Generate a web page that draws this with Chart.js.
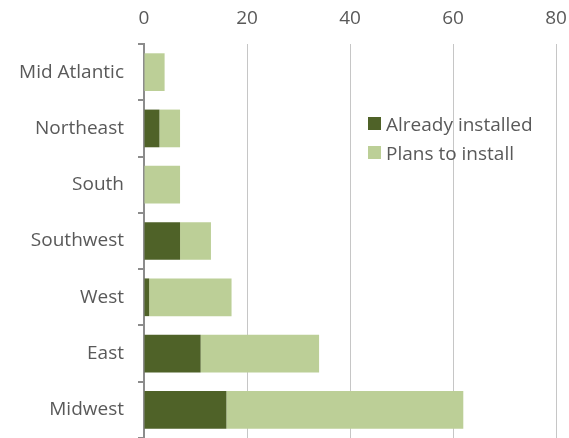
<!DOCTYPE html>
<html>
<head>
<meta charset="utf-8">
<script src="https://cdn.jsdelivr.net/npm/chart.js@4"></script>
<style>
  html, body { margin: 0; padding: 0; background: #fff; }
  #wrap { position: relative; width: 569px; height: 438px; }
  canvas { display: block; }
  #legend { position: absolute; left: 368px; top: 109px; font-family: "Open Sans", sans-serif; font-size: 19px; color: #595959; }
  #legend div { display: flex; align-items: center; height: 29px; }
  #legend span.box { display: inline-block; width: 13px; height: 13px; margin-right: 5px; }
</style>
</head>
<body>
<div id="wrap">
  <canvas id="regionChart" width="569" height="438"></canvas>
  <div id="legend"></div>
</div>
<script>
const regions = ['Mid Atlantic', 'Northeast', 'South', 'Southwest', 'West', 'East', 'Midwest'];
const alreadyInstalled = [0, 3, 0, 7, 1, 11, 16];
const plansToInstall = [4, 4, 7, 6, 16, 23, 46];
const xTicks = [0, 20, 40, 60, 80];

const palette = {
    dark: '#4f6228',
    light: '#bccf97',
    text: '#595959',
    grid: '#c6c6c6',
    axis: '#8c8c8c',
};

const datasets = [{
    label: 'Already installed',
    data: alreadyInstalled,
    backgroundColor: palette.dark,
}, {
    label: 'Plans to install',
    data: plansToInstall,
    backgroundColor: palette.light,
}];

const ctx = document.getElementById('regionChart').getContext('2d');
new Chart(ctx, {
    type: 'bar',
    data: { labels: regions, datasets: datasets },
    options: {
        responsive: false,
        animation: false,
        indexAxis: 'y',
        layout: { padding: { left: 0, right: 13, top: 0, bottom: 0 } },
        datasets: { bar: { barPercentage: 0.67, categoryPercentage: 1 } },
        scales: {
            x: {
                position: 'top',
                stacked: true,
                min: 0,
                max: 80,
                afterFit: (scale) => {
                    scale.height = 44;
                    scale.paddingLeft = 0;
                    scale.paddingRight = 0;
                },
                afterBuildTicks: (scale) => { scale.ticks = xTicks.map(v => ({ value: v })); },
                grid: { color: palette.grid, lineWidth: 1, drawTicks: false },
                border: { display: false },
                ticks: { color: palette.text, padding: 14, font: { family: 'Open Sans', size: 19 } }
            },
            y: {
                stacked: true,
                afterFit: (scale) => {
                    scale.width = 144;
                    scale.paddingTop = 0;
                    scale.paddingBottom = 0;
                },
                grid: { drawOnChartArea: false, offset: true, color: palette.axis, lineWidth: 2, tickLength: 6 },
                border: { display: true, color: palette.axis, width: 2 },
                ticks: { color: palette.text, padding: 14, font: { family: 'Open Sans', size: 19 } }
            }
        },
        plugins: {
            legend: { display: false },
            tooltip: { enabled: false }
        }
    }
});

const legendEl = document.getElementById('legend');
datasets.forEach(ds => {
    const row = document.createElement('div');
    const box = document.createElement('span');
    box.className = 'box';
    box.style.background = ds.backgroundColor;
    row.appendChild(box);
    row.appendChild(document.createTextNode(ds.label));
    legendEl.appendChild(row);
});
</script>
</body>
</html>
